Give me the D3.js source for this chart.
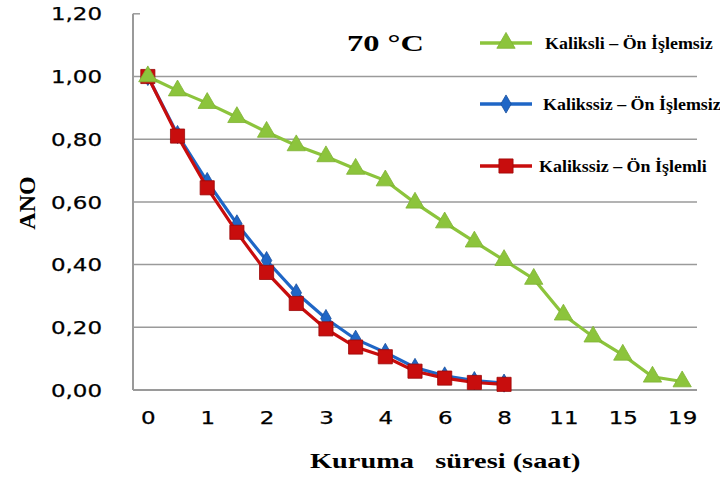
<!DOCTYPE html>
<html>
<head>
<meta charset="utf-8">
<script src="https://cdn.jsdelivr.net/npm/d3@7"></script>
<style>
  body { margin: 0; background: #fff; }
  svg { display: block; }
  .tick text { font-family: "DejaVu Sans", Verdana, sans-serif; fill: #000; stroke: #000; stroke-width: 0.25px; }
  .serif { font-family: "Liberation Serif", "Times New Roman", serif; font-weight: bold; fill: #000; }
</style>
</head>
<body>
<script>
// drying time categories (hours); only every other one is labelled
var hours = ["0", "0.5", "1", "1.5", "2", "2.5", "3", "3.5", "4", "5", "6", "7",
             "8", "9.5", "11", "13", "15", "17", "19"];
var tickHours = ["0", "1", "2", "3", "4", "6", "8", "11", "15", "19"];

// moisture ratio values
var kaliksliOnIslemsiz = [1.00, 0.955, 0.915, 0.87, 0.823, 0.78, 0.745, 0.705, 0.668, 0.597,
                          0.534, 0.473, 0.414, 0.354, 0.24, 0.17, 0.112, 0.042, 0.027];
var kalikssizOnIslemsiz = [1.00, 0.815, 0.665, 0.53, 0.413, 0.31, 0.228, 0.162, 0.12, 0.072,
                           0.045, 0.03, 0.022];
var kalikssizOnIslemli = [1.00, 0.81, 0.645, 0.503, 0.375, 0.276, 0.195, 0.137, 0.106, 0.06,
                          0.038, 0.024, 0.018];

var yTicks = [0, 0.2, 0.4, 0.6, 0.8, 1.0, 1.2];

var W = 720, H = 480;
var plot = {left: 133, right: 697, top: 13.8, bottom: 390};
var stretchK = 1.35;   // the source picture is wider than tall, so is its text

var svg = d3.select("body").append("svg")
    .attr("width", W)
    .attr("height", H);

var x = d3.scalePoint()
    .domain(hours)
    .range([plot.left, plot.right])
    .padding(0.5);

var y = d3.scaleLinear()
    .domain([0, 1.2])
    .range([plot.bottom, plot.top]);

function stretch(sel, k) {
    sel.each(function() {
        var len = this.getComputedTextLength();
        d3.select(this)
            .attr("textLength", len * k)
            .attr("lengthAdjust", "spacingAndGlyphs");
    });
}

// gridlines
svg.append("g")
    .selectAll("line")
    .data(yTicks.filter(function(d) { return d > 0 && d < 1.2; }))
    .enter().append("line")
    .attr("x1", plot.left).attr("x2", plot.right)
    .attr("y1", function(d) { return y(d); })
    .attr("y2", function(d) { return y(d); })
    .style("stroke", "#9a9a9a")
    .style("stroke-width", 1.5);

// y axis
var yAxis = d3.axisLeft(y)
    .tickValues(yTicks)
    .tickSize(0)
    .tickPadding(31)
    .tickFormat(function(d) { return d3.format(".2f")(d).replace(".", ","); });

var gy = svg.append("g")
    .attr("transform", "translate(" + plot.left + ",0)")
    .call(yAxis);
gy.select(".domain").remove();
gy.selectAll("text").style("font-size", "17px").attr("dy", "0.36em");
stretch(gy.selectAll("text"), stretchK);

svg.append("line")
    .attr("x1", plot.left).attr("x2", plot.left)
    .attr("y1", y(1.2)).attr("y2", plot.bottom)
    .style("stroke", "#9a9a9a").style("stroke-width", 2);
svg.append("line")
    .attr("x1", plot.left).attr("x2", plot.left + 7)
    .attr("y1", y(1.2)).attr("y2", y(1.2))
    .style("stroke", "#9a9a9a").style("stroke-width", 1.5);

// x axis
var xAxis = d3.axisBottom(x)
    .tickValues(tickHours)
    .tickSize(0)
    .tickPadding(22);

var gx = svg.append("g")
    .attr("transform", "translate(0," + plot.bottom + ")")
    .call(xAxis);
gx.select(".domain").remove();
gx.selectAll("text").style("font-size", "17px");
stretch(gx.selectAll("text"), stretchK);

svg.append("line")
    .attr("x1", plot.left).attr("x2", plot.right)
    .attr("y1", plot.bottom).attr("y2", plot.bottom)
    .style("stroke", "#9a9a9a").style("stroke-width", 2);

// series
var series = [
    {name: "Kalikssiz – Ön İşlemsiz", values: kalikssizOnIslemsiz, color: "#1f66c6", stroke: "#1a4f9c", marker: "diamond", ly: 104, lx: 543},
    {name: "Kalikssiz – Ön İşlemli", values: kalikssizOnIslemli, color: "#c80d0d", stroke: "#9c0808", marker: "square", ly: 166, lx: 539},
    {name: "Kaliksli – Ön İşlemsiz", values: kaliksliOnIslemsiz, color: "#8cc43c", stroke: "#7fb332", marker: "triangle", ly: 43, lx: 545}
];

var symbols = {
    diamond: d3.symbol().type(d3.symbolDiamond).size(95),
    square: d3.symbol().type(d3.symbolSquare).size(200),
    triangle: d3.symbol().type(d3.symbolTriangle).size(145)
};

var line = d3.line()
    .x(function(d, i) { return x(hours[i]); })
    .y(function(d) { return y(d); });

series.forEach(function(s) {
    var g = svg.append("g");
    g.append("path")
        .datum(s.values)
        .attr("d", line)
        .style("fill", "none")
        .style("stroke", s.color)
        .style("stroke-width", 3.2);
    g.selectAll("path.pt")
        .data(s.values)
        .enter().append("path")
        .attr("class", "pt")
        .attr("d", symbols[s.marker])
        .attr("transform", function(d, i) { return "translate(" + x(hours[i]) + "," + y(d) + ")"; })
        .style("fill", s.color)
        .style("stroke", s.stroke)
        .style("stroke-width", 0.8);
});

// legend
series.forEach(function(s) {
    var g = svg.append("g").attr("transform", "translate(0," + s.ly + ")");
    g.append("line")
        .attr("x1", 480).attr("x2", 532)
        .style("stroke", s.color)
        .style("stroke-width", 3.5);
    g.append("path")
        .attr("d", symbols[s.marker])
        .attr("transform", "translate(506,0)")
        .style("fill", s.color)
        .style("stroke", s.stroke)
        .style("stroke-width", 0.8);
    var t = g.append("text")
        .attr("class", "serif")
        .attr("x", s.lx)
        .attr("dy", "0.35em")
        .style("font-size", "16px")
        .text(s.name);
    stretch(t, 1.12);
});

// temperature label
var temp = svg.append("text")
    .attr("class", "serif")
    .attr("x", 347)
    .attr("y", 51)
    .style("font-size", "24px")
    .text("70 °C");
stretch(temp, 1.35);

// axis titles
var xt = svg.append("text")
    .attr("class", "serif")
    .attr("x", 310)
    .attr("y", 468)
    .style("font-size", "21px")
    .style("white-space", "pre")
    .attr("xml:space", "preserve")
    .text("Kuruma   süresi (saat)");
stretch(xt, 1.35);

svg.append("text")
    .attr("class", "serif")
    .attr("transform", "translate(35,203) rotate(-90)")
    .attr("text-anchor", "middle")
    .style("font-size", "24px")
    .text("ANO");
</script>
</body>
</html>
